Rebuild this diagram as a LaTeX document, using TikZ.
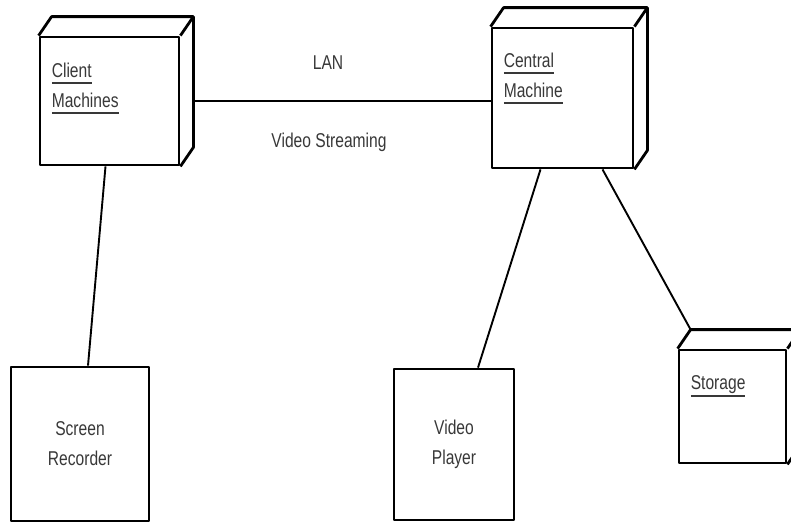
\documentclass[tikz,border=0pt]{standalone}
\usepackage{fontspec}
\newfontfamily\umlfont[FakeStretch=0.78]{Liberation Sans}
\usetikzlibrary{positioning}

% underlined node name, rule set a bit below the baseline
\newcommand{\nodename}[1]{\setbox0\hbox{#1}\rlap{\rule[-7pt]{\wd0}{2pt}}\box0}
% the 3d part of a deployment node
\newcommand{\depthbox}[1]{%
  \draw[boxline] (#1.north west) -- ++(13,-19) -| ([shift={(13,-19)}]#1.south east) -- (#1.south east);
  \draw[boxline] (#1.north east) -- ++(13,-19);
}

\begin{document}
\begin{tikzpicture}[x=1pt, y=-1pt,
    box/.style={draw, line width=2.8pt, inner sep=0pt, line join=round},
    boxline/.style={line width=2.8pt, line join=round},
    link/.style={line width=1.9pt},
    txt/.style={font=\umlfont\fontsize{20}{30}\selectfont, text=black!78, align=center},
    boxtitle/.style={txt, align=left, anchor=north west, inner sep=0pt}]

  \useasboundingbox (0,0) rectangle (791,525);

  \node[box, minimum width=139, minimum height=128] (client) at (109.5,101) {};
  \node[box, minimum width=141, minimum height=140] (central) at (562.5,98) {};
  \node[box, minimum width=107, minimum height=113] (storage) at (732.5,406.5) {};
  \node[box, txt, minimum width=138, minimum height=154] (recorder) at (80,444) {Screen\\Recorder};
  \node[box, txt, minimum width=120, minimum height=151] (player) at (454,444.5) {Video\\Player};

  \depthbox{client}
  \depthbox{central}
  \depthbox{storage}

  \node[boxtitle] (clientname) at ([shift={(13,27)}]client.north west) {\nodename{Client}\\\nodename{Machines}};
  \node[boxtitle] (centralname) at ([shift={(13,26)}]central.north west) {\nodename{Central}\\\nodename{Machine}};
  \node[boxtitle] (storagename) at ([shift={(13,27)}]storage.north west) {\nodename{Storage}};

  \draw[link] ([xshift=13pt]client.east) -- (client.east -| central.west);
  \node[txt] (lan) at (328,63) {LAN};
  \node[txt] (stream) at (329,142) {Video Streaming};

  \draw[link] ([xshift=-4pt]client.south) -- ([xshift=8pt]recorder.north);
  \draw[link] ([xshift=-22pt]central.south) -- ([xshift=24pt]player.north);
  \draw[link] ([xshift=40pt]central.south) -- ([shift={(13,-19)}]storage.north west);
\end{tikzpicture}
\end{document}
